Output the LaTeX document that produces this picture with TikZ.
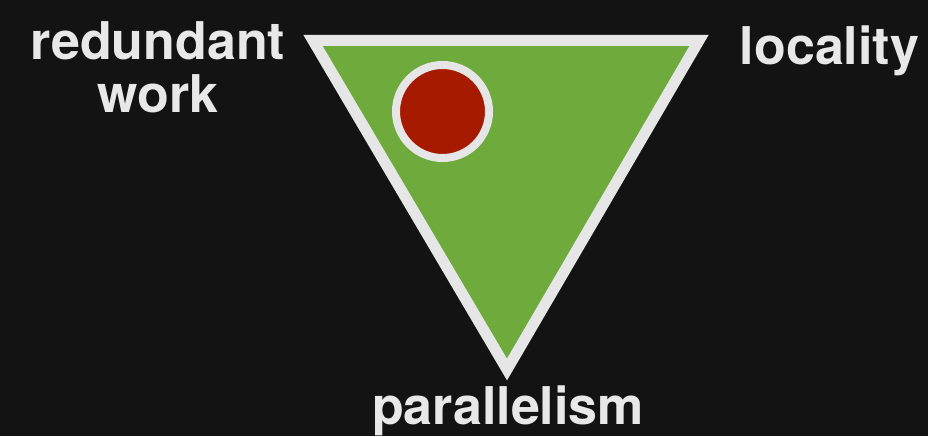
\documentclass[tikz,border=0pt]{standalone}
\usepackage{fontspec}
\setmainfont{TeX Gyre Heros}
\definecolor{bgcol}{HTML}{131313}
\definecolor{edgecol}{HTML}{E6E6E6}
\definecolor{greencol}{HTML}{6FAA3C}
\definecolor{redcol}{HTML}{A61A00}
\definecolor{textcol}{HTML}{E8E8E8}
\begin{document}
\begin{tikzpicture}[x=1pt,y=-1pt,
  label/.style={text=textcol,font=\fontsize{52}{53}\selectfont\bfseries,inner sep=0pt,anchor=base,align=center},
  tri/.style={draw=edgecol,fill=greencol,line width=11pt,line join=miter},
  dot/.style={draw=edgecol,fill=redcol,line width=8pt}]
\fill[bgcol] (0,0) rectangle (928,436);
\useasboundingbox (0,0) rectangle (928,436);
\coordinate (tl) at (313,40.5);
\coordinate (tr) at (699,40.5);
\coordinate (bt) at (507,369.5);
\draw[tri] (tl) -- (tr) -- (bt) -- cycle;
\draw[dot] (442.5,111.5) circle[radius=46.5];
\node[label] (rw) at (158,112) {redundant\\work};
\node[label] (loc) at (829.5,64) {locality};
\node[label] (par) at (508,424) {parallelism};
\end{tikzpicture}
\end{document}
